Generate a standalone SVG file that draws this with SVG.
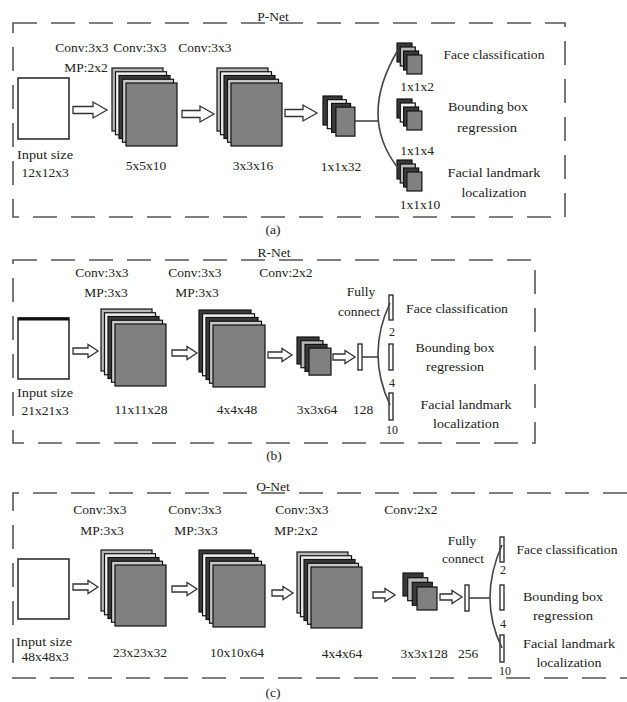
<svg xmlns="http://www.w3.org/2000/svg" width="627" height="702" viewBox="0 0 627 702">
<style>
.bd{fill:none;stroke:#555;stroke-width:1.6;stroke-dasharray:24 14}
.t{font-family:"Liberation Serif","Times New Roman",serif;font-size:13.5px;fill:#222;text-anchor:middle}
.s{font-size:12px}
.ly{stroke:#111;stroke-width:1.2}
.l0{fill:#b8b8b8}.l1{fill:#f0f0f0}.l2{fill:#3a3a3a}.l3{fill:#c8c8c8}.fr{fill:#808080}
.inp{fill:#fff;stroke:#222;stroke-width:1.5}
.ar{fill:#fff;stroke:#333;stroke-width:1.3;stroke-linejoin:miter}
.bar{fill:#fff;stroke:#222;stroke-width:1.3}
.cn{fill:none;stroke:#444;stroke-width:1.6}
</style>

<!-- Panel borders -->
<g id="borders">
<rect class="bd" x="13" y="23" width="552" height="194"/>
<rect class="bd" x="13" y="260" width="522" height="183"/>
<path class="bd" d="M627,493 H13 V678 H627"/>
</g>

<!-- ===== P-Net ===== -->
<g id="pnet-title"><text class="t" x="273" y="21">P-Net</text></g>
<g id="pnet-labels">
<text class="t" x="82" y="52">Conv:3x3</text>
<text class="t" x="140" y="52">Conv:3x3</text>
<text class="t" x="205" y="52">Conv:3x3</text>
<text class="t" x="86" y="72">MP:2x2</text>
</g>
<g id="p-input">
<rect class="inp" x="18" y="78" width="51" height="61"/>
<text class="t" x="45" y="159" textLength="56" lengthAdjust="spacingAndGlyphs">Input size</text>
<text class="t" x="45" y="177">12x12x3</text>
</g>
<g id="p-stack1">
<rect class="ly l0" x="112" y="68" width="51" height="63"/>
<rect class="ly l1" x="115.5" y="71.75" width="51" height="63"/>
<rect class="ly l2" x="119" y="75.5" width="51" height="63"/>
<rect class="ly l3" x="122.5" y="79.25" width="51" height="63"/>
<rect class="ly fr" x="126" y="83" width="51" height="63"/>
<text class="t" x="146" y="170">5x5x10</text>
</g>
<g id="p-stack2">
<rect class="ly l0" x="217" y="68" width="51" height="63"/>
<rect class="ly l1" x="220.5" y="71.75" width="51" height="63"/>
<rect class="ly l2" x="224" y="75.5" width="51" height="63"/>
<rect class="ly l3" x="227.5" y="79.25" width="51" height="63"/>
<rect class="ly fr" x="231" y="83" width="51" height="63"/>
<text class="t" x="253" y="170">3x3x16</text>
</g>
<g id="p-stack3">
<rect class="ly l2" x="323" y="96" width="19" height="29"/>
<rect class="ly l1" x="327.3" y="99.7" width="19" height="29"/>
<rect class="ly l2" x="331.6" y="103.4" width="19" height="29"/>
<rect class="ly fr" x="335.9" y="107.1" width="19" height="29"/>
<text class="t" x="341" y="171">1x1x32</text>
</g>
<g id="p-out1">
<rect class="ly l2" x="397" y="43" width="15" height="19"/>
<rect class="ly l0" x="400.3" y="47" width="15" height="19"/>
<rect class="ly l2" x="403.6" y="51" width="15" height="19"/>
<rect class="ly fr" x="406.9" y="55" width="15" height="19"/>
<text class="t" x="417" y="91">1x1x2</text>
<text class="t" x="494" y="59" textLength="101" lengthAdjust="spacingAndGlyphs">Face classification</text>
</g>
<g id="p-out2">
<rect class="ly l2" x="397" y="99" width="15" height="19"/>
<rect class="ly l1" x="400.3" y="103" width="15" height="19"/>
<rect class="ly l2" x="403.6" y="107" width="15" height="19"/>
<rect class="ly fr" x="406.9" y="111" width="15" height="19"/>
<text class="t" x="417" y="155">1x1x4</text>
<text class="t" x="488" y="111" textLength="80" lengthAdjust="spacingAndGlyphs">Bounding box</text>
<text class="t" x="487" y="132" textLength="60" lengthAdjust="spacingAndGlyphs">regression</text>
</g>
<g id="p-out3">
<rect class="ly l2" x="397" y="160" width="15" height="19"/>
<rect class="ly l0" x="400.3" y="164" width="15" height="19"/>
<rect class="ly l2" x="403.6" y="168" width="15" height="19"/>
<rect class="ly fr" x="406.9" y="172" width="15" height="19"/>
<text class="t" x="420" y="209">1x1x10</text>
<text class="t" x="494" y="177" textLength="93" lengthAdjust="spacingAndGlyphs">Facial landmark</text>
<text class="t" x="494" y="197" textLength="65" lengthAdjust="spacingAndGlyphs">localization</text>
</g>
<g id="p-caption"><text class="t" x="273" y="234">(a)</text></g>

<!-- ===== R-Net ===== -->
<g id="rnet-title"><text class="t" x="274" y="257">R-Net</text></g>
<g id="rnet-labels">
<text class="t" x="102" y="277">Conv:3x3</text>
<text class="t" x="106" y="297">MP:3x3</text>
<text class="t" x="195" y="277">Conv:3x3</text>
<text class="t" x="197" y="297">MP:3x3</text>
<text class="t" x="286" y="277">Conv:2x2</text>
</g>
<g id="r-input">
<rect class="inp" x="18" y="318" width="51" height="61"/>
<line x1="18" y1="319" x2="69" y2="319" stroke="#111" stroke-width="3"/>
<text class="t" x="45" y="397" textLength="56" lengthAdjust="spacingAndGlyphs">Input size</text>
<text class="t" x="45" y="415">21x21x3</text>
</g>
<g id="r-stack1">
<rect class="ly l0" x="101" y="309" width="51" height="62"/>
<rect class="ly l1" x="104.5" y="312.75" width="51" height="62"/>
<rect class="ly l2" x="108" y="316.5" width="51" height="62"/>
<rect class="ly l3" x="111.5" y="320.25" width="51" height="62"/>
<rect class="ly fr" x="115" y="324" width="51" height="62"/>
<text class="t" x="141" y="414">11x11x28</text>
</g>
<g id="r-stack2">
<rect class="ly l2" x="199" y="310" width="52" height="62"/>
<rect class="ly l1" x="202.5" y="313.75" width="52" height="62"/>
<rect class="ly l2" x="206" y="317.5" width="52" height="62"/>
<rect class="ly l3" x="209.5" y="321.25" width="52" height="62"/>
<rect class="ly fr" x="213" y="325" width="52" height="62"/>
<text class="t" x="237" y="414">4x4x48</text>
</g>
<g id="r-stack3">
<rect class="ly l2" x="297" y="337" width="22" height="27"/>
<rect class="ly l0" x="301" y="340.7" width="22" height="27"/>
<rect class="ly l2" x="305" y="344.4" width="22" height="27"/>
<rect class="ly fr" x="309" y="348.1" width="22" height="27"/>
<text class="t" x="317" y="414">3x3x64</text>
</g>
<g id="r-fc">
<rect class="bar" x="358" y="344" width="4" height="26"/>
<text class="t" x="363" y="414">128</text>
<text class="t" x="361" y="296">Fully</text>
<text class="t" x="359" y="316">connect</text>
</g>
<g id="r-out1">
<rect class="bar" x="389" y="295" width="4" height="25"/>
<text class="t s" x="392" y="336">2</text>
<text class="t" x="457" y="313" textLength="102" lengthAdjust="spacingAndGlyphs">Face classification</text>
</g>
<g id="r-out2">
<rect class="bar" x="389" y="344" width="4" height="26"/>
<text class="t s" x="392" y="387">4</text>
<text class="t" x="455" y="352" textLength="79" lengthAdjust="spacingAndGlyphs">Bounding box</text>
<text class="t" x="455" y="371" textLength="58" lengthAdjust="spacingAndGlyphs">regression</text>
</g>
<g id="r-out3">
<rect class="bar" x="389" y="393" width="4" height="27"/>
<text class="t s" x="392" y="434">10</text>
<text class="t" x="466" y="409" textLength="91" lengthAdjust="spacingAndGlyphs">Facial landmark</text>
<text class="t" x="466" y="428" textLength="66" lengthAdjust="spacingAndGlyphs">localization</text>
</g>
<g id="r-caption"><text class="t" x="274" y="460">(b)</text></g>

<!-- ===== O-Net ===== -->
<g id="onet-title"><text class="t" x="273" y="491">O-Net</text></g>
<g id="onet-labels">
<text class="t" x="100" y="514">Conv:3x3</text>
<text class="t" x="102" y="535">MP:3x3</text>
<text class="t" x="195" y="514">Conv:3x3</text>
<text class="t" x="196" y="535">MP:3x3</text>
<text class="t" x="302" y="514">Conv:3x3</text>
<text class="t" x="296" y="535">MP:2x2</text>
<text class="t" x="411" y="514">Conv:2x2</text>
</g>
<g id="o-input">
<rect class="inp" x="18" y="559" width="51" height="60"/>
<text class="t" x="44" y="646" textLength="56" lengthAdjust="spacingAndGlyphs">Input size</text>
<text class="t" x="45" y="661">48x48x3</text>
</g>
<g id="o-stack1">
<rect class="ly l0" x="101" y="550" width="51" height="61"/>
<rect class="ly l1" x="104.5" y="553.75" width="51" height="61"/>
<rect class="ly l2" x="108" y="557.5" width="51" height="61"/>
<rect class="ly l3" x="111.5" y="561.25" width="51" height="61"/>
<rect class="ly fr" x="115" y="565" width="51" height="61"/>
<text class="t" x="140" y="657">23x23x32</text>
</g>
<g id="o-stack2">
<rect class="ly l2" x="199" y="550" width="52" height="62"/>
<rect class="ly l1" x="202.5" y="553.75" width="52" height="62"/>
<rect class="ly l2" x="206" y="557.5" width="52" height="62"/>
<rect class="ly l3" x="209.5" y="561.25" width="52" height="62"/>
<rect class="ly fr" x="213" y="565" width="52" height="62"/>
<text class="t" x="237" y="657">10x10x64</text>
</g>
<g id="o-stack3">
<rect class="ly l0" x="297" y="552" width="51" height="61"/>
<rect class="ly l1" x="300.5" y="555.75" width="51" height="61"/>
<rect class="ly l2" x="304" y="559.5" width="51" height="61"/>
<rect class="ly l3" x="307.5" y="563.25" width="51" height="61"/>
<rect class="ly fr" x="311" y="567" width="51" height="61"/>
<text class="t" x="342" y="658">4x4x64</text>
</g>
<g id="o-stack4">
<rect class="ly l2" x="403" y="573" width="20" height="23"/>
<rect class="ly l0" x="407.7" y="577.7" width="20" height="23"/>
<rect class="ly l2" x="412.3" y="582.3" width="20" height="23"/>
<rect class="ly fr" x="417" y="587" width="20" height="23"/>
<text class="t" x="424" y="658">3x3x128</text>
</g>
<g id="o-fc">
<rect class="bar" x="465" y="585" width="4" height="26"/>
<text class="t" x="468" y="658">256</text>
<text class="t" x="462" y="545">Fully</text>
<text class="t" x="463" y="563">connect</text>
</g>
<g id="o-out1">
<rect class="bar" x="500" y="537" width="4" height="25"/>
<text class="t s" x="503" y="574">2</text>
<text class="t" x="567" y="554" textLength="101" lengthAdjust="spacingAndGlyphs">Face classification</text>
</g>
<g id="o-out2">
<rect class="bar" x="500" y="585" width="4" height="25"/>
<text class="t s" x="503" y="628">4</text>
<text class="t" x="563" y="601" textLength="80" lengthAdjust="spacingAndGlyphs">Bounding box</text>
<text class="t" x="563" y="620" textLength="60" lengthAdjust="spacingAndGlyphs">regression</text>
</g>
<g id="o-out3">
<rect class="bar" x="500" y="635" width="4" height="27"/>
<text class="t s" x="505" y="675">10</text>
<text class="t" x="569" y="648" textLength="92" lengthAdjust="spacingAndGlyphs">Facial landmark</text>
<text class="t" x="569" y="667" textLength="65" lengthAdjust="spacingAndGlyphs">localization</text>
</g>
<g id="o-caption"><text class="t" x="273" y="697">(c)</text></g>

<!-- ===== Connectors ===== -->
<g id="connectors">
<path class="ar" d="M73,106.5 H93 V102 L107,110 L93,118 V113.5 H73 Z"/>
<path class="ar" d="M182,110.5 H200 V106 L214,114 L200,122 V117.5 H182 Z"/>
<path class="ar" d="M285,109.5 H303 V105 L317,113 L303,121 V116.5 H285 Z"/>
<line class="cn" x1="355" y1="121" x2="378" y2="121"/>
<path class="cn" d="M398,50 Q358,117 398,168"/>

<path class="ar" d="M73,348 H88 V344.5 L98,351 L88,357.5 V354 H73 Z"/>
<path class="ar" d="M172,350 H187 V346.5 L197,353 L187,359.5 V356 H172 Z"/>
<path class="ar" d="M268,352 H282 V348.5 L292,355 L282,361.5 V358 H268 Z"/>
<path class="ar" d="M333,354 H345 V350.5 L355,357 L345,363.5 V360 H333 Z"/>
<line class="cn" x1="362" y1="357" x2="378" y2="357"/>
<path class="cn" d="M390,303 Q366,354 390,405"/>

<path class="ar" d="M73,584 H88 V580.5 L98,587 L88,593.5 V590 H73 Z"/>
<path class="ar" d="M172,586 H187 V582.5 L197,589 L187,595.5 V592 H172 Z"/>
<path class="ar" d="M272,590 H283 V586.5 L293,593 L283,599.5 V596 H272 Z"/>
<path class="ar" d="M373,592 H385 V588.5 L395,595 L385,601.5 V598 H373 Z"/>
<path class="ar" d="M440,594 H452 V590.5 L462,597 L452,603.5 V600 H440 Z"/>
<line class="cn" x1="469" y1="598" x2="490" y2="598"/>
<path class="cn" d="M502,545 Q478,599 502,648"/>
</g>
</svg>
